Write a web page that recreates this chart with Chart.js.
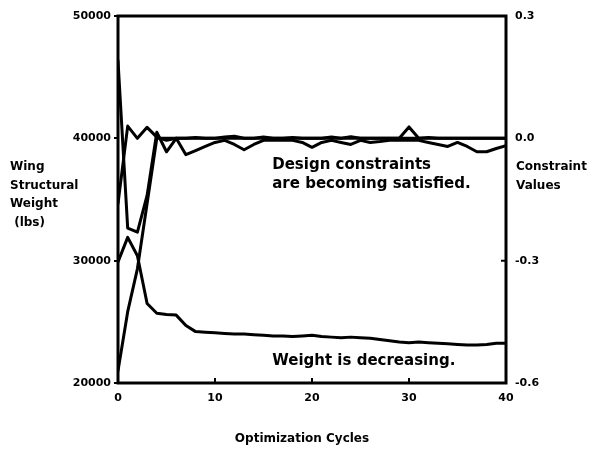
<!DOCTYPE html>
<html lang="en">
<head>
  <meta charset="UTF-8">
  <title>Wing Structural Weight | Optimization Cycles</title>
  <script src="https://cdn.jsdelivr.net/npm/chart.js"></script>
  <style>
    html, body { margin: 0; padding: 0; background: #fff; }
  </style>
</head>
<body>

  <canvas id="graficoOtimizacao" width="616" height="451"></canvas>

<script>
  // ciclos de otimizacao (eixo x)
  const ciclos = [0, 1, 2, 3, 4, 5, 6, 7, 8, 9, 10, 11, 12, 13, 14, 15, 16, 17, 18, 19, 20,
    21, 22, 23, 24, 25, 26, 27, 28, 29, 30, 31, 32, 33, 34, 35, 36, 37, 38, 39, 40];

  // peso estrutural da asa (lbs) - eixo esquerdo
  const peso = [29900, 31900, 30400, 26500, 25700, 25600, 25550, 24700, 24200, 24150, 24100,
    24050, 24000, 24000, 23950, 23900, 23850, 23850, 23800, 23850, 23900,
    23800, 23750, 23700, 23750, 23700, 23650, 23550, 23450, 23350, 23300,
    23350, 23300, 23250, 23200, 23150, 23100, 23100, 23150, 23250, 23250];

  // valores das restricoes - eixo direito
  const restricaoA = [0.19, -0.22, -0.23, -0.14, 0.015, -0.033, 0.0, -0.04, -0.03, -0.02, -0.01,
    -0.005, -0.015, -0.028, -0.015, -0.005, -0.005, -0.005, -0.005, -0.01, -0.022,
    -0.01, -0.005, -0.01, -0.015, -0.005, -0.01, -0.008, -0.005, -0.005, -0.005,
    -0.005, -0.01, -0.015, -0.02, -0.01, -0.02, -0.033, -0.033, -0.025, -0.018];

  const restricaoB = [-0.57, -0.425, -0.32, -0.16, 0.0, 0.0, 0.0, 0.0, 0.0, 0.0, 0.0,
    0.0, 0.0, 0.0, 0.0, 0.0, 0.0, 0.0, 0.0, 0.0, 0.0,
    0.0, 0.0, 0.0, 0.0, 0.0, 0.0, 0.0, 0.0, 0.0, 0.0,
    0.0, 0.0, 0.0, 0.0, 0.0, 0.0, 0.0, 0.0, 0.0, 0.0];

  const restricaoC = [-0.16, 0.03, 0.0, 0.027, 0.003, -0.005, 0.0, 0.0, 0.002, 0.0, 0.0,
    0.003, 0.005, 0.0, 0.0, 0.003, 0.0, 0.0, 0.002, 0.0, 0.0,
    0.0, 0.003, 0.0, 0.004, 0.0, 0.0, 0.0, 0.0, 0.0, 0.028,
    0.0, 0.002, 0.0, 0.0, 0.0, 0.0, 0.0, 0.0, 0.0, 0.0];

  const ticksPeso = [20000, 30000, 40000, 50000];
  const ticksRestricao = [-0.6, -0.3, 0.0, 0.3];
  const ticksCiclos = [0, 10, 20, 30, 40];

  const fonte = '"DejaVu Sans", "Liberation Sans", sans-serif';

  function pontos(valores) {
    return ciclos.map((c, i) => ({ x: c, y: valores[i] }));
  }

  function serie(valores, eixo) {
    return {
      data: pontos(valores),
      yAxisID: eixo,
      borderColor: '#000',
      borderWidth: 3,
      pointRadius: 0,
      tension: 0,
      fill: false,
      borderJoinStyle: 'round',
      borderCapStyle: 'round'
    };
  }

  // moldura, marcas internas e textos
  const moldura = {
    id: 'moldura',
    afterDraw(chart) {
      const { ctx, chartArea: a, scales } = chart;
      ctx.save();
      ctx.strokeStyle = '#000';
      ctx.lineWidth = 3;
      ctx.strokeRect(a.left, a.top, a.right - a.left, a.bottom - a.top);

      ctx.lineWidth = 2;
      ctx.beginPath();
      ticksCiclos.slice(1, -1).forEach(v => {
        const px = scales.x.getPixelForValue(v);
        ctx.moveTo(px, a.bottom);
        ctx.lineTo(px, a.bottom - 5);
      });
      ticksRestricao.slice(1, -1).forEach(v => {
        const py = scales.y1.getPixelForValue(v);
        ctx.moveTo(a.right, py);
        ctx.lineTo(a.right - 5, py);
      });
      ctx.stroke();

      ctx.fillStyle = '#000';
      ctx.textBaseline = 'alphabetic';
      ctx.textAlign = 'left';

      ctx.font = 'bold 12px ' + fonte;
      ['Wing', 'Structural', 'Weight', ' (lbs)'].forEach((t, i) => {
        ctx.fillText(t, 10, 170 + i * 18.5);
      });
      ctx.fillText('Constraint', 516, 170);
      ctx.fillText('Values', 516, 189);
      ctx.textAlign = 'center';
      ctx.fillText('Optimization Cycles', 302, 442);

      ctx.textAlign = 'left';
      ctx.font = 'bold 15px ' + fonte;
      const xt = scales.x.getPixelForValue(15.9);
      ctx.fillText('Design constraints', xt, scales.y1.getPixelForValue(-0.075));
      ctx.fillText('are becoming satisfied.', xt, scales.y1.getPixelForValue(-0.122));
      ctx.fillText('Weight is decreasing.', xt, scales.y.getPixelForValue(21500));
      ctx.restore();
    }
  };

  const ctx = document.getElementById('graficoOtimizacao');

  const grafico = new Chart(ctx, {
    type: 'line',
    data: {
      datasets: [
        serie(peso, 'y'),
        serie(restricaoA, 'y1'),
        serie(restricaoB, 'y1'),
        serie(restricaoC, 'y1')
      ]
    },
    options: {
      responsive: false,
      animation: false,
      layout: { padding: { top: 16, left: 0, right: 0, bottom: 0 } },
      plugins: { legend: { display: false }, tooltip: { enabled: false } },
      scales: {
        x: {
          type: 'linear',
          min: 0,
          max: 40,
          afterBuildTicks: s => { s.ticks = ticksCiclos.map(v => ({ value: v })); },
          afterFit: s => { s.height = 68; },
          grid: { display: false, drawTicks: false },
          border: { display: false },
          ticks: { padding: 9, color: '#000', font: { family: fonte, weight: 'bold', size: 11 } }
        },
        y: {
          position: 'left',
          min: 20000,
          max: 50000,
          afterBuildTicks: s => { s.ticks = ticksPeso.map(v => ({ value: v })); },
          afterFit: s => { s.width = 118; },
          grid: { drawOnChartArea: false, drawTicks: true, tickLength: 4, color: '#000', lineWidth: 2 },
          border: { display: false },
          ticks: {
            padding: 3,
            color: '#000',
            font: { family: fonte, weight: 'bold', size: 11 },
            callback: v => String(v)
          }
        },
        y1: {
          position: 'right',
          min: -0.6,
          max: 0.3,
          afterBuildTicks: s => { s.ticks = ticksRestricao.map(v => ({ value: v })); },
          afterFit: s => { s.width = 110; },
          grid: { drawOnChartArea: false, drawTicks: false },
          border: { display: false },
          ticks: {
            padding: 9,
            color: '#000',
            font: { family: fonte, weight: 'bold', size: 11 },
            callback: v => Number(v).toFixed(1)
          }
        }
      }
    },
    plugins: [moldura]
  });
</script>
</body>
</html>
